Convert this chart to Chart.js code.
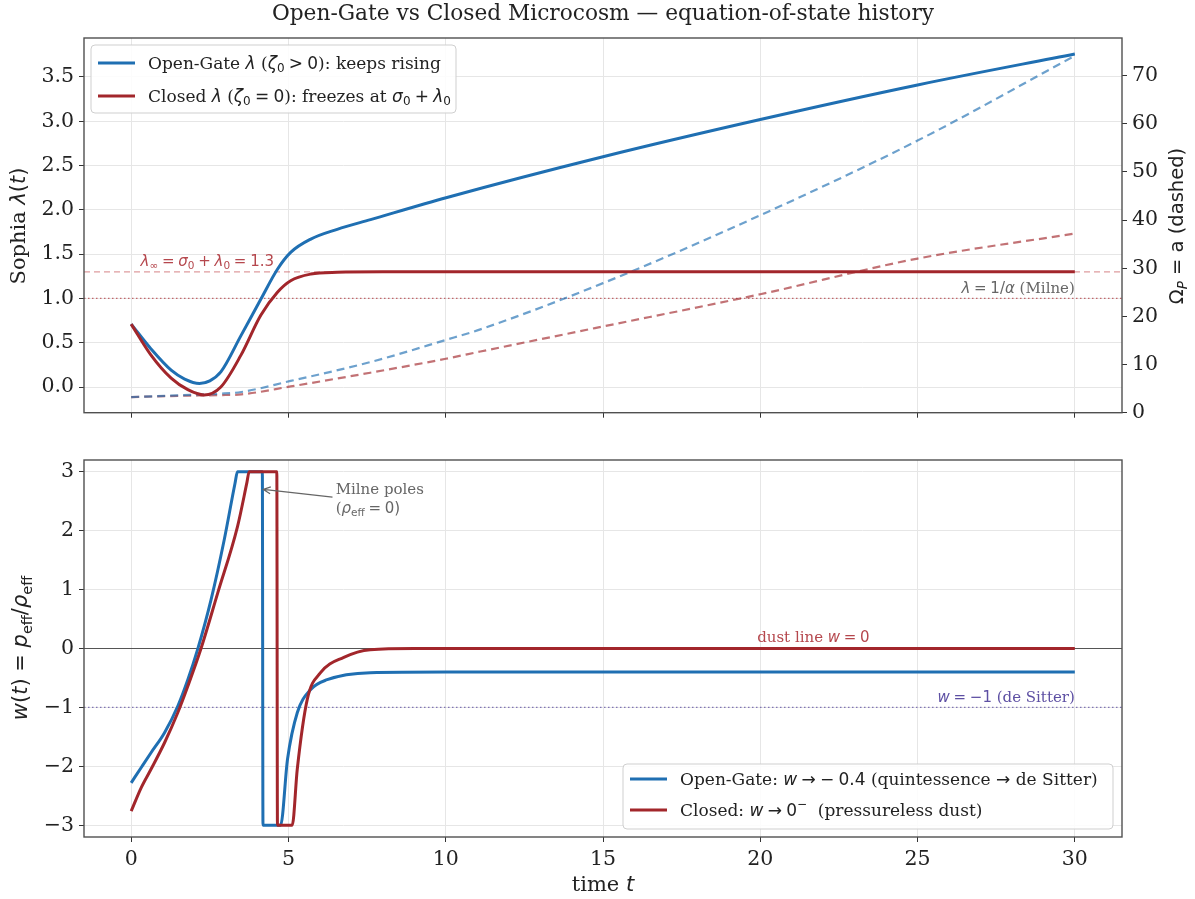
<!DOCTYPE html>
<html>
<head>
<meta charset="utf-8">
<script src="https://cdn.jsdelivr.net/npm/chart.js@4/dist/chart.umd.min.js"></script>
<style>
  html, body { margin: 0; padding: 0; background: #fff; }
  #wrap { position: relative; width: 1195px; height: 899px; }
  canvas { position: absolute; left: 0; }
  #top { top: 0; }
  #bot { top: 430px; }
</style>
</head>
<body>
<div id="wrap">
  <canvas id="top" width="1195" height="430"></canvas>
  <canvas id="bot" width="1195" height="469"></canvas>
</div>
<script>
// ---- data ----
const xTicks = [0, 5, 10, 15, 20, 25, 30];
const lamTicks = [0, 0.5, 1, 1.5, 2, 2.5, 3, 3.5];
const omegaTicks = [0, 10, 20, 30, 40, 50, 60, 70];
const wTicks = [-3, -2, -1, 0, 1, 2, 3];
const xEdge = [-1.5, 31.5];

// Sophia lambda(t)
const tOpenLam = [0, 0.63, 1.27, 1.7, 2.17, 2.5, 2.85, 3.49, 4.12, 4.65, 5.07, 5.71, 6.55, 7.61, 10.04, 15, 20, 25, 30];
const lamOpen = [0.71, 0.43, 0.19, 0.09, 0.04, 0.07, 0.17, 0.58, 0.99, 1.33, 1.52, 1.67, 1.78, 1.89, 2.14, 2.60, 3.02, 3.41, 3.76];
const tClosedLam = [0, 0.63, 1.27, 1.8, 2.32, 2.85, 3.49, 4.12, 4.65, 5.07, 5.71, 6.55, 8, 30];
const lamClosed = [0.71, 0.36, 0.10, -0.03, -0.09, 0.0, 0.36, 0.81, 1.07, 1.20, 1.275, 1.295, 1.30, 1.30];

// Omega_P = a (dashed, right axis)
const tOmega = [0, 1.5, 2.8, 3.5, 5.07, 7.6, 10, 11.1, 15, 20, 25, 30];
const omegaOpen = [3.25, 3.6, 3.95, 4.3, 6.6, 10.5, 15.1, 17.3, 26.9, 41.0, 56.5, 74.1];
const omegaClosed = [3.25, 3.5, 3.65, 3.8, 5.45, 8.3, 11.2, 12.7, 17.9, 24.6, 32.0, 37.2];

// reference levels
const lamInf = 1.3;
const lamMilne = 1.0;
const wDust = 0;
const wDeSitter = -1;

// w(t) = p_eff / rho_eff (clipped at +-3)
const tOpenW = [0, 0.32, 0.63, 1.06, 1.48, 1.8, 2.11, 2.54, 2.96, 3.3, 3.38, 4.17, 4.19, 4.75, 4.97, 5.28, 5.7, 6.23, 7.6, 10, 30];
const wOpen = [-2.28, -2.02, -1.77, -1.43, -0.98, -0.53, -0.02, 0.83, 1.85, 2.8, 3, 3, -3, -3, -1.88, -1.09, -0.70, -0.53, -0.41, -0.40, -0.40];
const tClosedW = [0, 0.32, 0.63, 1.06, 1.48, 1.8, 2.22, 2.75, 3.38, 3.68, 3.75, 4.63, 4.65, 5.12, 5.28, 5.6, 6.02, 6.76, 7.6, 9, 30];
const wClosed = [-2.76, -2.36, -2.05, -1.6, -1.09, -0.64, 0, 0.94, 2.07, 2.82, 3, 3, -3, -3, -2.05, -0.86, -0.41, -0.15, -0.02, 0, 0];

// ---- styles ----
const BLUE = '#1f6fb2';
const RED = '#a2262b';
const BLUE_D = 'rgba(31,111,178,0.65)';
const RED_D = 'rgba(162,38,43,0.65)';
const GRID = '#e6e6e6';
const SERIF = '"DejaVu Serif", serif';
const SANS = '"DejaVu Sans", sans-serif';
const TICK = 20.5;   // tick label size
const LAB = 21;      // axis label size
const LEG = 17;      // legend size
const ANN = 15;      // annotation size
const SP = '\u2005'; // mathtext-like narrow space

function pts(xs, ys) {
    return xs.map((x, i) => ({ x: x, y: ys[i] }));
}
function flat(v) {
    return xEdge.map(x => ({ x: x, y: v }));
}
function fnt(size, fam, style) {
    return (style || '') + ' ' + size + 'px ' + fam;
}
// draw a run of text pieces with different fonts
function drawRuns(ctx, runs, x, y, align, color) {
    let w = 0;
    runs.forEach(r => { ctx.font = r.f; w += ctx.measureText(r.s).width; });
    let cx = align === 'right' ? x - w : (align === 'center' ? x - w / 2 : x);
    ctx.textAlign = 'left';
    ctx.textBaseline = 'alphabetic';
    runs.forEach(r => {
        ctx.font = r.f;
        ctx.fillStyle = r.c || color;
        ctx.fillText(r.s, cx, y + (r.dy || 0));
        cx += ctx.measureText(r.s).width;
    });
}
function frame(chart) {
    const a = chart.chartArea, ctx = chart.ctx;
    ctx.save();
    ctx.strokeStyle = '#505050';
    ctx.lineWidth = 1.4;
    ctx.strokeRect(a.left, a.top, a.right - a.left, a.bottom - a.top);
    ctx.restore();
}
function legendBox(ctx, x, y, w, h, rows) {
    ctx.save();
    ctx.beginPath();
    ctx.roundRect(x, y, w, h, 4);
    ctx.fillStyle = 'rgba(255,255,255,0.85)';
    ctx.fill();
    ctx.strokeStyle = '#cfcfcf';
    ctx.lineWidth = 1;
    ctx.stroke();
    rows.forEach(r => {
        ctx.beginPath();
        ctx.strokeStyle = r.color;
        ctx.lineWidth = 3;
        ctx.moveTo(x + 7, r.y);
        ctx.lineTo(x + 44, r.y);
        ctx.stroke();
        drawRuns(ctx, r.runs, x + 57, r.y + 6, 'left', '#222');
    });
    ctx.restore();
}

function xScale(showLabels, h) {
    return {
        type: 'linear', min: xEdge[0], max: xEdge[1],
        afterBuildTicks: s => { s.ticks = xTicks.map(v => ({ value: v })); },
        afterFit: s => { s.height = h; },
        ticks: { display: showLabels, font: { family: SERIF, size: TICK }, color: '#222', padding: 5, callback: v => String(v) },
        grid: { color: GRID, tickColor: '#333', tickLength: 5, lineWidth: 1 },
        border: { display: false }
    };
}

// ---- top panel ----
const topDecor = {
    id: 'topDecor',
    afterDraw(chart) {
        const ctx = chart.ctx, xs = chart.scales.x, ys = chart.scales.y;
        frame(chart);
        ctx.save();
        // suptitle
        ctx.font = fnt(21.7, SERIF);
        ctx.fillStyle = '#222';
        ctx.textAlign = 'center';
        ctx.textBaseline = 'alphabetic';
        ctx.fillText('Open-Gate vs Closed Microcosm \u2014 equation-of-state history', 603, 20);

        // annotations
        const it = fnt(ANN, SANS, 'italic'), rm = fnt(ANN, SANS), sub = fnt(10.5, SANS);
        const redTxt = '#b5474d';
        drawRuns(ctx, [
            { s: 'λ', f: it }, { s: '∞', f: sub, dy: 3 }, { s: SP + '=' + SP, f: rm }, { s: 'σ', f: it }, { s: '0', f: sub, dy: 3 },
            { s: SP + '+' + SP, f: rm }, { s: 'λ', f: it }, { s: '0', f: sub, dy: 3 }, { s: SP + '=' + SP + '1.3', f: rm }
        ], xs.getPixelForValue(0.3), ys.getPixelForValue(lamInf) - 6, 'left', redTxt);
        drawRuns(ctx, [
            { s: 'λ', f: it }, { s: SP + '=' + SP + '1/', f: rm }, { s: 'α', f: it }, { s: ' (Milne)', f: fnt(ANN, SERIF) }
        ], xs.getPixelForValue(30), ys.getPixelForValue(lamMilne) - 5, 'right', '#666');

        // axis titles
        ctx.save();
        ctx.translate(25, 226);
        ctx.rotate(-Math.PI / 2);
        drawRuns(ctx, [
            { s: 'Sophia ', f: fnt(LAB, SERIF) }, { s: 'λ', f: fnt(LAB, SANS, 'italic') }, { s: '(', f: fnt(LAB, SANS) },
            { s: 't', f: fnt(LAB, SANS, 'italic') }, { s: ')', f: fnt(LAB, SANS) }
        ], 0, 0, 'center', '#222');
        ctx.restore();
        ctx.save();
        ctx.translate(1183, 226);
        ctx.rotate(-Math.PI / 2);
        drawRuns(ctx, [
            { s: 'Ω', f: fnt(19.5, SANS) }, { s: 'P', f: fnt(13.5, SANS, 'italic'), dy: 4 }, { s: ' = a (dashed)', f: fnt(19.5, SANS) }
        ], 0, 0, 'center', '#222');
        ctx.restore();

        // legend
        const lf = fnt(LEG, SERIF), li = fnt(LEG, SANS, 'italic'), lr = fnt(LEG, SANS), ls = fnt(12, SANS);
        legendBox(ctx, 91, 45, 365, 68, [
            { color: BLUE, y: 63, runs: [
                { s: 'Open-Gate ', f: lf }, { s: 'λ', f: li }, { s: ' (', f: lf }, { s: 'ζ', f: li }, { s: '0', f: ls, dy: 3 },
                { s: SP + '>' + SP + '0', f: lr }, { s: '): keeps rising', f: lf }] },
            { color: RED, y: 96, runs: [
                { s: 'Closed ', f: lf }, { s: 'λ', f: li }, { s: ' (', f: lf }, { s: 'ζ', f: li }, { s: '0', f: ls, dy: 3 },
                { s: SP + '=' + SP + '0', f: lr }, { s: '): freezes at ', f: lf }, { s: 'σ', f: li }, { s: '0', f: ls, dy: 3 },
                { s: SP + '+' + SP, f: lr }, { s: 'λ', f: li }, { s: '0', f: ls, dy: 3 }] }
        ]);
        ctx.restore();
    }
};

new Chart(document.getElementById('top'), {
    type: 'line',
    data: {
        datasets: [
            { data: flat(lamInf), yAxisID: 'y', borderColor: 'rgba(200,90,95,0.6)', borderWidth: 1.2, borderDash: [6, 4], order: 10 },
            { data: flat(lamMilne), yAxisID: 'y', borderColor: 'rgba(180,60,65,0.75)', borderWidth: 1.2, borderDash: [1.5, 2.5], order: 10 },
            { data: pts(tOmega, omegaOpen), yAxisID: 'y2', borderColor: BLUE_D, borderWidth: 2.2, borderDash: [8, 5], cubicInterpolationMode: 'monotone', order: 5 },
            { data: pts(tOmega, omegaClosed), yAxisID: 'y2', borderColor: RED_D, borderWidth: 2.2, borderDash: [8, 5], cubicInterpolationMode: 'monotone', order: 5 },
            { data: pts(tOpenLam, lamOpen), yAxisID: 'y', borderColor: BLUE, borderWidth: 3, cubicInterpolationMode: 'monotone', order: 2 },
            { data: pts(tClosedLam, lamClosed), yAxisID: 'y', borderColor: RED, borderWidth: 3, cubicInterpolationMode: 'monotone', order: 1 }
        ]
    },
    options: {
        responsive: false,
        animation: false,
        parsing: false,
        elements: { point: { radius: 0 } },
        layout: { padding: { top: 38, left: 0, right: 0, bottom: 0 } },
        plugins: { legend: { display: false }, tooltip: { enabled: false } },
        scales: {
            x: xScale(false, 16),
            y: {
                position: 'left', min: -0.29, max: 3.94,
                afterBuildTicks: s => { s.ticks = lamTicks.map(v => ({ value: v })); },
                afterFit: s => { s.width = 84; },
                ticks: { font: { family: SERIF, size: TICK }, color: '#222', padding: 5, callback: v => v.toFixed(1) },
                grid: { color: GRID, tickColor: '#333', tickLength: 5 },
                border: { display: false }
            },
            y2: {
                position: 'right', min: 0, max: 77.8,
                afterBuildTicks: s => { s.ticks = omegaTicks.map(v => ({ value: v })); },
                afterFit: s => { s.width = 73; },
                ticks: { font: { family: SERIF, size: TICK }, color: '#222', padding: 5, callback: v => String(v) },
                grid: { drawOnChartArea: false, tickColor: '#333', tickLength: 5 },
                border: { display: false }
            }
        }
    },
    plugins: [topDecor]
});

// ---- bottom panel ----
const botDecor = {
    id: 'botDecor',
    afterDraw(chart) {
        const ctx = chart.ctx, xs = chart.scales.x, ys = chart.scales.y;
        frame(chart);
        ctx.save();
        const it = fnt(ANN, SANS, 'italic'), rm = fnt(ANN, SANS), sr = fnt(ANN, SERIF);

        drawRuns(ctx, [{ s: 'dust line ', f: sr }, { s: 'w', f: it }, { s: SP + '=' + SP + '0', f: rm }],
            xs.getPixelForValue(19.9), ys.getPixelForValue(wDust) - 7, 'left', '#b5474d');
        drawRuns(ctx, [{ s: 'w', f: it }, { s: SP + '=' + SP + '−1', f: rm }, { s: ' (de Sitter)', f: sr }],
            xs.getPixelForValue(30), ys.getPixelForValue(wDeSitter) - 5, 'right', '#5d4fa3');

        // Milne poles annotation
        const tx = xs.getPixelForValue(6.5);
        drawRuns(ctx, [{ s: 'Milne poles', f: fnt(15, SERIF) }], tx, ys.getPixelForValue(2.62), 'left', '#666');
        drawRuns(ctx, [{ s: '(', f: fnt(15, SERIF) }, { s: 'ρ', f: fnt(15, SANS, 'italic') }, { s: 'eff', f: fnt(10.5, SANS), dy: 3 },
            { s: SP + '=' + SP + '0)', f: fnt(15, SANS) }], tx, ys.getPixelForValue(2.3), 'left', '#666');
        const x0 = xs.getPixelForValue(6.4), y0 = ys.getPixelForValue(2.57);
        const x1 = xs.getPixelForValue(4.2), y1 = ys.getPixelForValue(2.7);
        const ang = Math.atan2(y0 - y1, x0 - x1);
        ctx.strokeStyle = '#666';
        ctx.lineWidth = 1.3;
        ctx.beginPath();
        ctx.moveTo(x0, y0); ctx.lineTo(x1, y1);
        ctx.moveTo(x1 + 8 * Math.cos(ang + 0.45), y1 + 8 * Math.sin(ang + 0.45));
        ctx.lineTo(x1, y1);
        ctx.lineTo(x1 + 8 * Math.cos(ang - 0.45), y1 + 8 * Math.sin(ang - 0.45));
        ctx.stroke();

        // axis titles
        ctx.save();
        ctx.translate(27, 218);
        ctx.rotate(-Math.PI / 2);
        const a = fnt(LAB, SANS, 'italic'), b = fnt(LAB, SANS), c = fnt(14.5, SANS);
        drawRuns(ctx, [{ s: 'w', f: a }, { s: '(', f: b }, { s: 't', f: a }, { s: ') = ', f: b }, { s: 'p', f: a },
            { s: 'eff', f: c, dy: 5 }, { s: '/', f: b }, { s: 'ρ', f: a }, { s: 'eff', f: c, dy: 5 }], 0, 0, 'center', '#222');
        ctx.restore();
        drawRuns(ctx, [{ s: 'time ', f: fnt(LAB, SERIF) }, { s: 't', f: fnt(LAB, SANS, 'italic') }], 603, 461, 'center', '#222');

        // legend
        const lf = fnt(LEG, SERIF), li = fnt(LEG, SANS, 'italic'), lr = fnt(LEG, SANS), ls = fnt(12, SANS);
        legendBox(ctx, 623, 334, 490, 65, [
            { color: BLUE, y: 349, runs: [
                { s: 'Open-Gate: ', f: lf }, { s: 'w', f: li }, { s: SP + '→' + SP + '−' + SP + '0.4', f: lr }, { s: ' (quintessence ', f: lf },
                { s: '→', f: lr }, { s: ' de Sitter)', f: lf }] },
            { color: RED, y: 380, runs: [
                { s: 'Closed: ', f: lf }, { s: 'w', f: li }, { s: SP + '→' + SP + '0', f: lr }, { s: '−', f: ls, dy: -8 },
                { s: '  (pressureless dust)', f: lf }] }
        ]);
        ctx.restore();
    }
};

new Chart(document.getElementById('bot'), {
    type: 'line',
    data: {
        datasets: [
            { data: flat(wDust), borderColor: '#555', borderWidth: 1.2, order: 10 },
            { data: flat(wDeSitter), borderColor: 'rgba(93,79,163,0.75)', borderWidth: 1.2, borderDash: [1.5, 2.5], order: 10 },
            { data: pts(tOpenW, wOpen), borderColor: BLUE, borderWidth: 3, cubicInterpolationMode: 'monotone', order: 2 },
            { data: pts(tClosedW, wClosed), borderColor: RED, borderWidth: 3, cubicInterpolationMode: 'monotone', order: 1 }
        ]
    },
    options: {
        responsive: false,
        animation: false,
        parsing: false,
        elements: { point: { radius: 0 } },
        layout: { padding: { top: 30, left: 0, right: 73, bottom: 0 } },
        plugins: { legend: { display: false }, tooltip: { enabled: false } },
        scales: {
            x: xScale(true, 62),
            y: {
                position: 'left', min: -3.2, max: 3.2,
                afterBuildTicks: s => { s.ticks = wTicks.map(v => ({ value: v })); },
                afterFit: s => { s.width = 84; },
                ticks: { font: { family: SERIF, size: TICK }, color: '#222', padding: 5,
                    callback: v => v < 0 ? '−' + Math.abs(v) : String(v) },
                grid: { color: GRID, tickColor: '#333', tickLength: 5 },
                border: { display: false }
            }
        }
    },
    plugins: [botDecor]
});
</script>
</body>
</html>
